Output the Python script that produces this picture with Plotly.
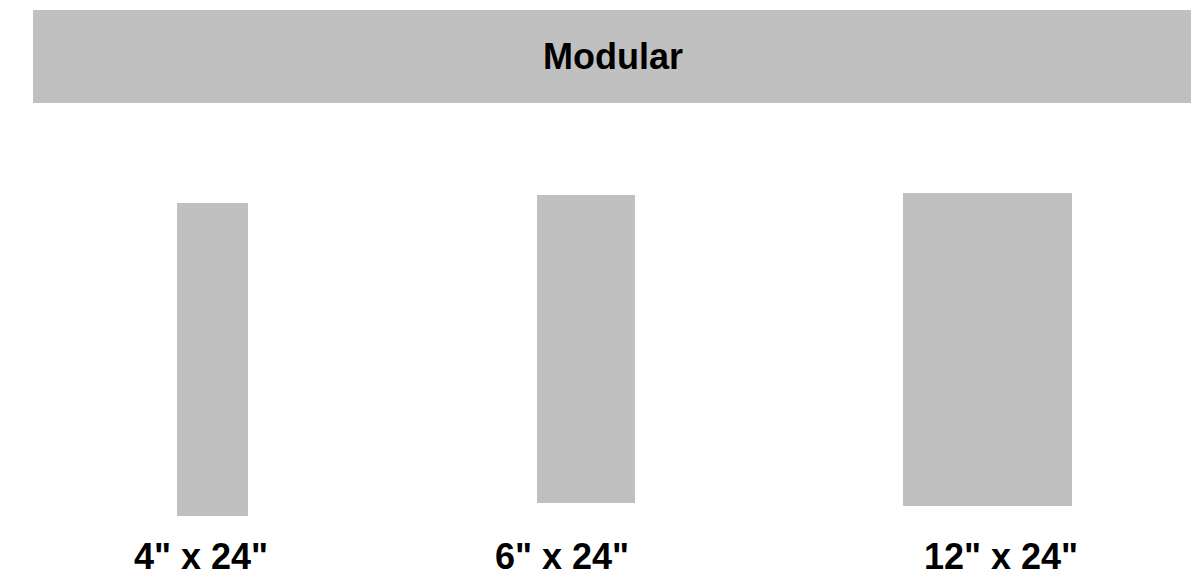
import plotly.graph_objects as go

# tile sizes and their drawn extents (in page units)
tile_labels = ['4" x 24"', '6" x 24"', '12" x 24"']
tile_left = [177, 537, 903]
tile_right = [248, 635, 1072]
tile_top = [203, 195, 193]
tile_bottom = [516, 503, 506]
label_x = [201, 562, 1001]
label_y = [560, 560, 560]
title_text = "Modular"

GREY = "#C0C0C0"
W, H = 1195, 583
FONT = "Liberation Sans, Arial, sans-serif"

centers = [(l + r) / 2 for l, r in zip(tile_left, tile_right)]
widths = [r - l for l, r in zip(tile_left, tile_right)]
heights = [b - t for t, b in zip(tile_top, tile_bottom)]

fig = go.Figure()

fig.add_trace(go.Bar(
    x=centers,
    y=heights,
    base=tile_top,
    width=widths,
    marker=dict(color=GREY, line=dict(width=0)),
    hoverinfo="skip",
))

fig.add_trace(go.Scatter(
    x=label_x,
    y=label_y,
    mode="text",
    text=tile_labels,
    texttemplate="<b>%{text}</b>",
    textfont=dict(size=36, color="#000000", family=FONT),
    hoverinfo="skip",
))

# header band
fig.add_shape(type="rect", x0=33, x1=1191, y0=10, y1=103,
              xref="x", yref="y", fillcolor=GREY, line=dict(width=0), layer="below")
fig.add_annotation(x=613, y=56, xref="x", yref="y", text="<b>%s</b>" % title_text,
                   showarrow=False,
                   font=dict(size=36, color="#000000", family=FONT))

fig.update_layout(
    width=W, height=H,
    margin=dict(l=0, r=0, t=0, b=0),
    xaxis=dict(range=[0, W], visible=False, fixedrange=True),
    yaxis=dict(range=[H, 0], visible=False, fixedrange=True),
    plot_bgcolor="#FFFFFF",
    paper_bgcolor="#FFFFFF",
    showlegend=False,
    bargap=0,
)

fig.write_html("out.html", config=dict(displayModeBar=False),
               post_script="document.body.style.margin='0';")
